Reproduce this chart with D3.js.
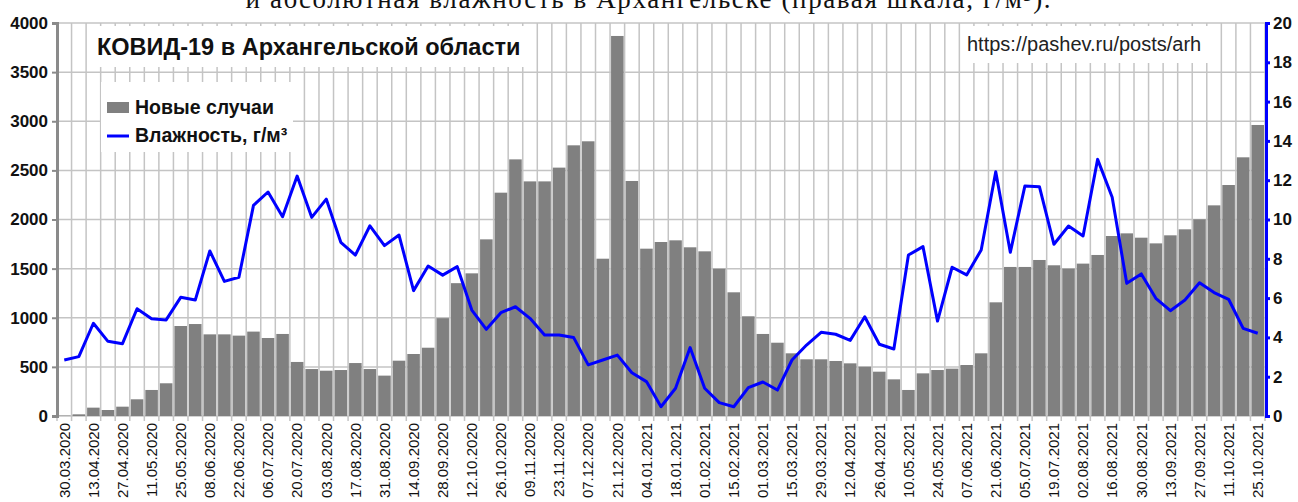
<!DOCTYPE html>
<html>
<head>
<meta charset="utf-8">
<script src="https://cdn.jsdelivr.net/npm/d3@7"></script>
<style>
  body { margin: 0; background: #fff; }
  svg { display: block; font-family: "Liberation Sans", Arial, sans-serif; }
</style>
</head>
<body>
<script>
// weekly dates (monday)
var weeks = [
  "30.03.2020","06.04.2020","13.04.2020","20.04.2020","27.04.2020","04.05.2020","11.05.2020","18.05.2020",
  "25.05.2020","01.06.2020","08.06.2020","15.06.2020","22.06.2020","29.06.2020","06.07.2020","13.07.2020",
  "20.07.2020","27.07.2020","03.08.2020","10.08.2020","17.08.2020","24.08.2020","31.08.2020","07.09.2020",
  "14.09.2020","21.09.2020","28.09.2020","05.10.2020","12.10.2020","19.10.2020","26.10.2020","02.11.2020",
  "09.11.2020","16.11.2020","23.11.2020","30.11.2020","07.12.2020","14.12.2020","21.12.2020","28.12.2020",
  "04.01.2021","11.01.2021","18.01.2021","25.01.2021","01.02.2021","08.02.2021","15.02.2021","22.02.2021",
  "01.03.2021","08.03.2021","15.03.2021","22.03.2021","29.03.2021","05.04.2021","12.04.2021","19.04.2021",
  "26.04.2021","03.05.2021","10.05.2021","17.05.2021","24.05.2021","31.05.2021","07.06.2021","14.06.2021",
  "21.06.2021","28.06.2021","05.07.2021","12.07.2021","19.07.2021","26.07.2021","02.08.2021","09.08.2021",
  "16.08.2021","23.08.2021","30.08.2021","06.09.2021","13.09.2021","20.09.2021","27.09.2021","04.10.2021",
  "11.10.2021","18.10.2021","25.10.2021"
];

// new cases per week
var cases = [
  4, 17, 85, 61, 95, 170, 265, 333, 916, 936, 831, 831, 818, 859, 794, 835,
  550, 478, 461, 468, 539, 478, 411, 563, 631, 695, 996, 1352, 1452, 1798, 2273, 2612,
  2388, 2388, 2528, 2755, 2796, 1601, 3868, 2392, 1703, 1771, 1788, 1717, 1676, 1499, 1259, 1015,
  835, 746, 638, 577, 577, 560, 536, 502, 451, 373, 265, 434, 468, 482, 519, 638,
  1157, 1517, 1517, 1588, 1534, 1500, 1551, 1639, 1832, 1859, 1815, 1757, 1839, 1900, 2002, 2144,
  2351, 2633, 2962
];

// absolute humidity, g/m3
var humidity = [
  2.85, 3.02, 4.72, 3.80, 3.68, 5.46, 4.95, 4.89, 6.04, 5.90, 8.40, 6.85, 7.06, 10.72, 11.40, 10.14,
  12.21, 10.11, 11.04, 8.84, 8.19, 9.68, 8.67, 9.21, 6.38, 7.63, 7.17, 7.60, 5.39, 4.41, 5.26, 5.56,
  4.97, 4.12, 4.12, 3.99, 2.60, 2.85, 3.10, 2.20, 1.75, 0.47, 1.41, 3.48, 1.41, 0.68, 0.47, 1.44,
  1.73, 1.32, 2.85, 3.61, 4.26, 4.16, 3.85, 5.05, 3.65, 3.41, 8.19, 8.62, 4.83, 7.57, 7.18, 8.45,
  12.43, 8.33, 11.70, 11.67, 8.74, 9.67, 9.16, 13.06, 11.13, 6.75, 7.23, 5.99, 5.36, 5.90, 6.78, 6.28,
  5.94, 4.46, 4.21
];

var leftTicks = [0, 500, 1000, 1500, 2000, 2500, 3000, 3500, 4000];
var rightTicks = [0, 2, 4, 6, 8, 10, 12, 14, 16, 18, 20];

var chart = function () {
  var W = 1298, H = 502;
  var pLeft = 57, pRight = 1265, pTop = 23, pBottom = 416;

  var svg = d3.select("body").append("svg")
    .attr("width", W)
    .attr("height", H);

  var x = d3.scaleBand().domain(weeks).range([pLeft, pRight]).padding(0);
  var y = d3.scaleLinear().domain([0, 4000]).range([pBottom, pTop]);
  var y2 = d3.scaleLinear().domain([0, 20]).range([pBottom, pTop]);

  // cut-off caption at the very top
  svg.append("text")
    .attr("x", 648).attr("y", 8)
    .attr("text-anchor", "middle")
    .attr("font-family", "'Liberation Serif', 'DejaVu Serif', serif")
    .attr("font-size", 27)
    .attr("textLength", 805)
    .attr("fill", "#111")
    .text("и абсолютная влажность в Архангельске (правая шкала, г/м³).");

  // grid
  var bw = x.bandwidth();
  svg.append("g").selectAll("line")
    .data(d3.range(weeks.length + 1))
    .enter().append("line")
    .attr("x1", function (i) { return pLeft + i * bw; })
    .attr("x2", function (i) { return pLeft + i * bw; })
    .attr("y1", pTop).attr("y2", pBottom + 5)
    .attr("stroke", "#c4c4c4").attr("stroke-width", 1.5);

  svg.append("g").selectAll("line")
    .data(leftTicks)
    .enter().append("line")
    .attr("x1", pLeft).attr("x2", pRight)
    .attr("y1", function (d) { return y(d); })
    .attr("y2", function (d) { return y(d); })
    .attr("stroke", "#c4c4c4").attr("stroke-width", 1.5);

  // bars
  svg.append("g").selectAll("rect")
    .data(cases)
    .enter().append("rect")
    .attr("x", function (d, i) { return x(weeks[i]) + 1; })
    .attr("width", bw - 2)
    .attr("y", function (d) { return y(d); })
    .attr("height", function (d) { return pBottom - y(d); })
    .attr("fill", "#808080");

  // left axis
  var yAxis = d3.axisLeft(y).tickValues(leftTicks).tickFormat(d3.format("d"))
    .tickSize(5).tickPadding(4);
  var gl = svg.append("g")
    .attr("transform", "translate(" + pLeft + ",0)")
    .call(yAxis);
  gl.select(".domain").attr("stroke", "#8a8a8a").attr("stroke-width", 3);
  gl.selectAll(".tick line").attr("stroke", "#8a8a8a").attr("stroke-width", 2);
  gl.selectAll(".tick text")
    .attr("font-family", "'Liberation Sans', Arial, sans-serif")
    .attr("font-size", 17).attr("font-weight", "bold").attr("fill", "#111");

  // right axis
  var yAxis2 = d3.axisRight(y2).tickValues(rightTicks).tickFormat(d3.format("d"))
    .tickSize(4).tickPadding(3);
  var gr = svg.append("g")
    .attr("transform", "translate(" + (pRight + 1) + ",0)")
    .call(yAxis2);
  gr.select(".domain").attr("stroke", "#0000ff").attr("stroke-width", 3);
  gr.selectAll(".tick line").attr("stroke", "#0000ff").attr("stroke-width", 3);
  gr.selectAll(".tick text")
    .attr("font-family", "'Liberation Sans', Arial, sans-serif")
    .attr("font-size", 17).attr("font-weight", "bold").attr("fill", "#111");

  // x labels every second week
  var xAxis = d3.axisBottom(x)
    .tickValues(weeks.filter(function (d, i) { return i % 2 === 0; }))
    .tickSize(0).tickPadding(0);
  var gx = svg.append("g")
    .attr("transform", "translate(0," + pBottom + ")")
    .call(xAxis);
  gx.select(".domain").remove();
  gx.selectAll(".tick text")
    .attr("font-family", "'Liberation Sans', Arial, sans-serif")
    .attr("font-size", 15).attr("fill", "#111")
    .attr("transform", "rotate(-90)")
    .attr("text-anchor", "end")
    .attr("x", -7).attr("y", 0).attr("dy", "0.35em");

  // humidity line
  var line = d3.line()
    .x(function (d, i) { return x(weeks[i]) + bw / 2; })
    .y(function (d) { return y2(d); });
  svg.append("path")
    .datum(humidity)
    .attr("d", line)
    .attr("fill", "none")
    .attr("stroke", "#0000ff")
    .attr("stroke-width", 3)
    .attr("stroke-linejoin", "round");

  // title box
  svg.append("rect").attr("x", 88).attr("y", 26).attr("width", 447).attr("height", 41).attr("fill", "#fff");
  svg.append("text")
    .attr("x", 97).attr("y", 55)
    .attr("font-size", 23.5).attr("font-weight", "bold").attr("fill", "#111")
    .text("КОВИД-19 в Архангельской области");

  // url box
  svg.append("rect").attr("x", 962).attr("y", 26).attr("width", 249).attr("height", 37).attr("fill", "#fff");
  svg.append("text")
    .attr("x", 967).attr("y", 51)
    .attr("font-size", 20).attr("fill", "#222")
    .text("https://pashev.ru/posts/arh");

  // legend
  svg.append("rect").attr("x", 101).attr("y", 82).attr("width", 192).attr("height", 70).attr("fill", "#fff");
  svg.append("rect").attr("x", 107).attr("y", 102).attr("width", 22).attr("height", 11).attr("fill", "#808080");
  svg.append("text").attr("x", 135).attr("y", 114)
    .attr("font-size", 19.5).attr("font-weight", "bold").attr("fill", "#111")
    .text("Новые случаи");
  svg.append("line").attr("x1", 107).attr("x2", 129).attr("y1", 136).attr("y2", 136)
    .attr("stroke", "#0000ff").attr("stroke-width", 3);
  svg.append("text").attr("x", 135).attr("y", 142)
    .attr("font-size", 19.5).attr("font-weight", "bold").attr("fill", "#111")
    .text("Влажность, г/м³");
};

chart();
</script>
</body>
</html>
